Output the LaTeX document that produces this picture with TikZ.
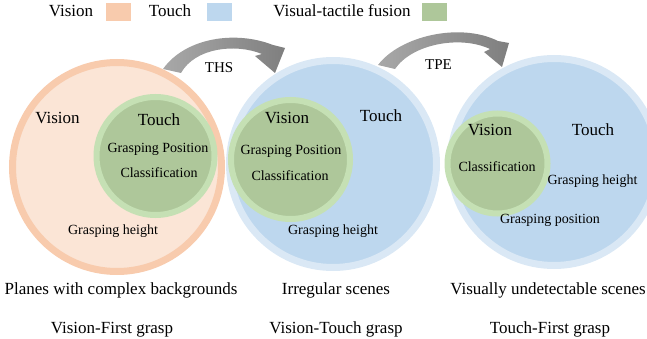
\documentclass[tikz,border=0pt]{standalone}
\usepackage{fontspec}
\setmainfont{Liberation Serif}
\definecolor{OrFill}{HTML}{FBE5D6}
\definecolor{OrRing}{HTML}{F8CBAD}
\definecolor{BlFill}{HTML}{BDD7EE}
\definecolor{BlRing}{HTML}{DAE8F5}
\definecolor{GrFill}{HTML}{AEC79A}
\definecolor{GrRing}{HTML}{C5E0B4}
\definecolor{ArL}{HTML}{A8A8A8}
\definecolor{ArD}{HTML}{7F7F7F}
\begin{document}
\begin{tikzpicture}[x=1pt,y=-1pt,
  lab/.style={inner sep=0pt, anchor=base, font=\fontsize{17}{20}\selectfont},
  sm/.style={inner sep=0pt, anchor=base, font=\fontsize{14}{16}\selectfont},
  arl/.style={inner sep=0pt, anchor=base, font=\fontsize{15}{18}\selectfont},
  swatch/.style={inner sep=0pt, minimum width=25pt, minimum height=18pt, fill=#1},
  disc/.style={circle, inner sep=0pt, outer sep=0pt, line width=7pt},
  gdisc/.style={circle, inner sep=0pt, outer sep=0pt, line width=6pt, draw=GrRing, fill=GrFill},
]
\useasboundingbox (0,0) rectangle (647,339);

% legend
\node[lab] (lv) at (71,17) {Vision};
\node[swatch=OrRing] (sv) at (118,12) {};
\node[lab] (lt) at (170,17) {Touch};
\node[swatch=BlFill] (st) at (219.5,12) {};
\node[lab] (lf) at (342,17) {Visual-tactile fusion};
\node[swatch=GrFill] (sf) at (434.5,12) {};

% circles
\node[disc, draw=OrRing, fill=OrFill, minimum size=209pt] (c1) at (117,167) {};
\node[disc, draw=BlRing, fill=BlFill, minimum size=207pt] (c2) at (333,164) {};
\node[disc, draw=BlRing, fill=BlFill, minimum size=207pt] (c3) at (554,162) {};
\node[gdisc, minimum size=118pt] (g1) at (155.5,156) {};
\node[gdisc, minimum size=119pt] (g2) at (290.5,159.5) {};
\node[gdisc, minimum size=100pt] (g3) at (497.5,163.5) {};

% texts circle 1
\node[lab] (c1v) at (57.5,124) {Vision};
\node[lab] (c1t) at (159,125.5) {Touch};
\node[sm] (c1p) at (158,152.5) {Grasping Position};
\node[sm] (c1c) at (159,178) {Classification};
\node[sm] (c1h) at (113,234) {Grasping height};

% texts circle 2
\node[lab] (c2v) at (287,124) {Vision};
\node[lab] (c2t) at (381,121.5) {Touch};
\node[sm] (c2p) at (291,154) {Grasping Position};
\node[sm] (c2c) at (290,180.5) {Classification};
\node[sm] (c2h) at (333,234) {Grasping height};

% texts circle 3
\node[lab] (c3v) at (490,136) {Vision};
\node[lab] (c3t) at (593,136) {Touch};
\node[sm] (c3c) at (497,171.5) {Classification};
\node[sm] (c3h) at (592.5,185) {Grasping height};
\node[sm] (c3p) at (550,223) {Grasping position};

% arrows
\shade[left color=ArL, right color=ArD]
  (163,69) .. controls (185,38) and (235,30) .. (273,45)
  -- (285,48) -- (275,73) -- (255,56) -- (262,54)
  .. controls (235,43) and (195,48) .. (181,73) -- cycle;
\shade[left color=ArL, right color=ArD]
  (378,65) .. controls (400,36) and (460,22) .. (498,41)
  -- (509,43) -- (502,67) -- (484,52) -- (490,49)
  .. controls (460,35) and (412,44) .. (395,69) -- cycle;
\node[arl] (ths) at (219,73) {THS};
\node[arl] (tpe) at (438.5,70) {TPE};

% bottom captions
\node[lab] (b1) at (121,294) {Planes with complex backgrounds};
\node[lab] (b2) at (336,294) {Irregular scenes};
\node[lab] (b3) at (548,294) {Visually undetectable scenes};
\node[lab] (d1) at (112,333) {Vision-First grasp};
\node[lab] (d2) at (336,333) {Vision-Touch grasp};
\node[lab] (d3) at (550,333) {Touch-First grasp};
\end{tikzpicture}
\end{document}
